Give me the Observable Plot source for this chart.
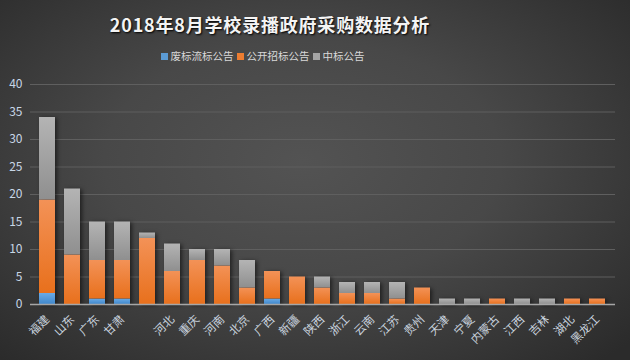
<!DOCTYPE html>
<html><head><meta charset="utf-8">
<script src="https://cdn.jsdelivr.net/npm/d3@7"></script>
<script src="https://cdn.jsdelivr.net/npm/@observablehq/plot@0.6"></script>
<style>
body{margin:0;background:#333;}
#wrap{width:630px;height:360px;position:relative;overflow:hidden;
  background: radial-gradient(ellipse 70% 75% at 48% 45%, #535353 0%, #484848 45%, #2b2b2b 100%);
  font-family:"Noto Sans CJK SC","Noto Sans",sans-serif;}
#title{position:absolute;top:12px;left:0;width:540px;text-align:center;color:#f4f4f4;font-size:18px;font-weight:bold;letter-spacing:0.8px;text-shadow:1px 1px 2px #000;line-height:24px;}
#legend{position:absolute;top:48px;left:0;width:522px;text-align:center;color:#d9d9d9;font-size:10.5px;}
#legend span.sw{display:inline-block;width:7px;height:7px;margin:0 3px 0 3px;vertical-align:0px;}
#chart{position:absolute;top:70px;left:0;}
</style></head>
<body><div id="wrap"><div id="title">2018年8月学校录播政府采购数据分析</div><div id="legend"></div><div id="chart"></div></div>
<script>
const categories = ["福建","山东","广东","甘肃"," ","河北","重庆","河南","北京","广西","新疆","陕西","浙江","云南","江苏","贵州","天津","宁夏","内蒙古","江西","吉林","湖北","黑龙江"];
const seriesNames = ["废标流标公告","公开招标公告","中标公告"];
const blue   = [2,0,1,1,0,0,0,0,0,1,0,0,0,0,0,0,0,0,0,0,0,0,0];
const orange = [17,9,7,7,12,6,8,7,3,5,5,3,2,2,1,3,0,0,1,0,0,1,1];
const gray   = [15,12,7,7,1,5,2,3,5,0,0,2,2,2,3,0,1,1,0,1,1,0,0];
const yTicks = [0,5,10,15,20,25,30,35,40];
const legendColors = ["#5b9bd5","#ed7d31","#a5a5a5"];

const values = [blue, orange, gray];
const data = [];
categories.forEach((c, i) => {
  seriesNames.forEach((s, k) => data.push({cat: c, series: s, value: values[k][i]}));
});

const legend = document.getElementById("legend");
legend.innerHTML = seriesNames.map((s, k) => `<span class="sw" style="background:${legendColors[k]}"></span>${s}`).join("");

const plot = Plot.plot({
  width: 630, height: 290,
  marginTop: 14, marginBottom: 56, marginLeft: 30, marginRight: 15,
  style: {background: "transparent", fontFamily: "'Noto Sans CJK SC', sans-serif"},
  x: {type: "band", domain: categories, paddingInner: 0.35, paddingOuter: 0.19, axis: null},
  y: {domain: [0, 40], axis: null},
  color: {type: "ordinal", domain: seriesNames, range: ["url(#gBlue)", "url(#gOrange)", "url(#gGray)"]},
  marks: [
    Plot.gridY(yTicks, {stroke: "#5f5f5f", strokeOpacity: 1, strokeWidth: 1}),
    Plot.barY(data, {x: "cat", y: "value", fill: "series", order: seriesNames}),
    Plot.ruleY([0], {stroke: "#a6a6a6", strokeWidth: 1.5}),
    Plot.axisY(yTicks, {tickSize: 0, tickPadding: 8, fontSize: 12, fill: "#c8d6e6", label: null}),
    Plot.axisX({tickSize: 0, tickPadding: 13, tickRotate: -45, fontSize: 11.5, fill: "#c8d2de", label: null})
  ]
});

const svg = d3.select(plot);
const defs = svg.insert("defs", ":first-child");
[["gBlue","#6aaae6","#4088cc"],["gOrange","#f39257","#e8701c"],["gGray","#b4b4b4","#8f8f8f"]].forEach(([id, a, b]) => {
  const g = defs.append("linearGradient").attr("id", id).attr("x1", 0).attr("y1", 0).attr("x2", 0).attr("y2", 1);
  g.append("stop").attr("offset", "0%").attr("stop-color", a);
  g.append("stop").attr("offset", "100%").attr("stop-color", b);
});
svg.selectAll("g[aria-label='bar']").style("filter", "drop-shadow(2px 1px 2px rgba(0,0,0,0.55))");
document.getElementById("chart").appendChild(plot);
</script></body></html>
